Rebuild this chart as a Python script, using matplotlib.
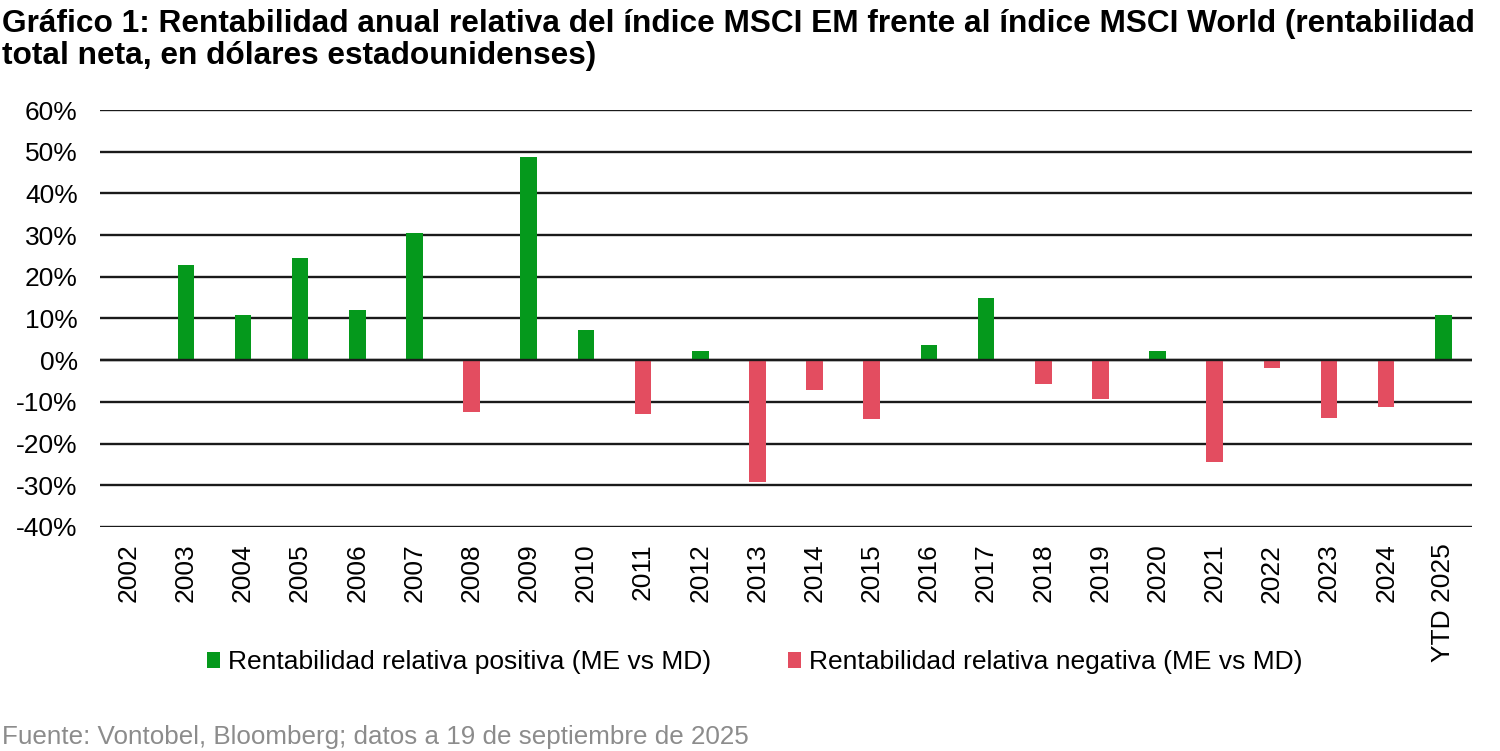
import matplotlib
matplotlib.use("Agg")
import matplotlib.pyplot as plt
import numpy as np

plt.rcParams['font.family'] = ['Liberation Sans', 'DejaVu Sans']

categories = ['2002', '2003', '2004', '2005', '2006', '2007', '2008', '2009', '2010',
              '2011', '2012', '2013', '2014', '2015', '2016', '2017', '2018', '2019',
              '2020', '2021', '2022', '2023', '2024', 'YTD 2025']
values = [0.0, 22.8, 10.9, 24.6, 12.1, 30.5, -12.5, 48.7, 7.2,
          -12.8, 2.3, -29.2, -7.1, -14.0, 3.7, 14.9, -5.7, -9.3,
          2.3, -24.4, -1.9, -13.9, -11.2, 10.9]
yticks = [-40, -30, -20, -10, 0, 10, 20, 30, 40, 50, 60]

pos_label = 'Rentabilidad relativa positiva (ME vs MD)'
neg_label = 'Rentabilidad relativa negativa (ME vs MD)'
title_line1 = 'Gráfico 1: Rentabilidad anual relativa del índice MSCI EM frente al índice MSCI World (rentabilidad'
title_line2 = 'total neta, en dólares estadounidenses)'
source = 'Fuente: Vontobel, Bloomberg; datos a 19 de septiembre de 2025'

green = '#05991C'
red = '#E34D60'

vals = np.array(values)
pos = np.where(vals > 0, vals, 0)
neg = np.where(vals < 0, vals, 0)
x = np.arange(len(categories))

fig = plt.figure(figsize=(15, 7.51), dpi=100)
ax = fig.add_axes([0.0667, 0.2983, 0.9146, 0.5552])

ax.bar(x, pos, width=0.29, color=green, label=pos_label, zorder=3)
ax.bar(x, neg, width=0.29, color=red, label=neg_label, zorder=3)

ax.set_xlim(-0.5, len(categories) - 0.5)
ax.set_ylim(-40, 60)
ax.set_yticks(yticks)
ax.set_yticklabels([f'{t}%' for t in yticks], fontsize=19)
ax.set_xticks(x)
ax.set_xticklabels(categories, rotation=90, fontsize=19)
ax.tick_params(axis='both', length=0)
ax.tick_params(axis='y', pad=16)
ax.tick_params(axis='x', pad=12)
ax.grid(axis='y', color='#1a1a1a', linewidth=1.7, zorder=1)
for s in ax.spines.values():
    s.set_visible(False)
ax.axhline(0, color='#1a1a1a', linewidth=1.7, zorder=4)

fig.text(0.001, 1 - 32 / 751, title_line1, fontsize=22.8, fontweight='bold',
         va='baseline', ha='left')
fig.text(0.001, 1 - 64 / 751, title_line2, fontsize=22.8, fontweight='bold',
         va='baseline', ha='left')
fig.text(0.001, 1 - 744 / 751, source, fontsize=18.7, color='#8c8c8c',
         va='baseline', ha='left')

leg = fig.legend(loc='center', bbox_to_anchor=(0.503, 0.118), ncol=2, frameon=False,
                 fontsize=19, handlelength=0.5, handleheight=0.5, handletextpad=0.3,
                 columnspacing=2.9)

fig.savefig('out.png', dpi=100)
